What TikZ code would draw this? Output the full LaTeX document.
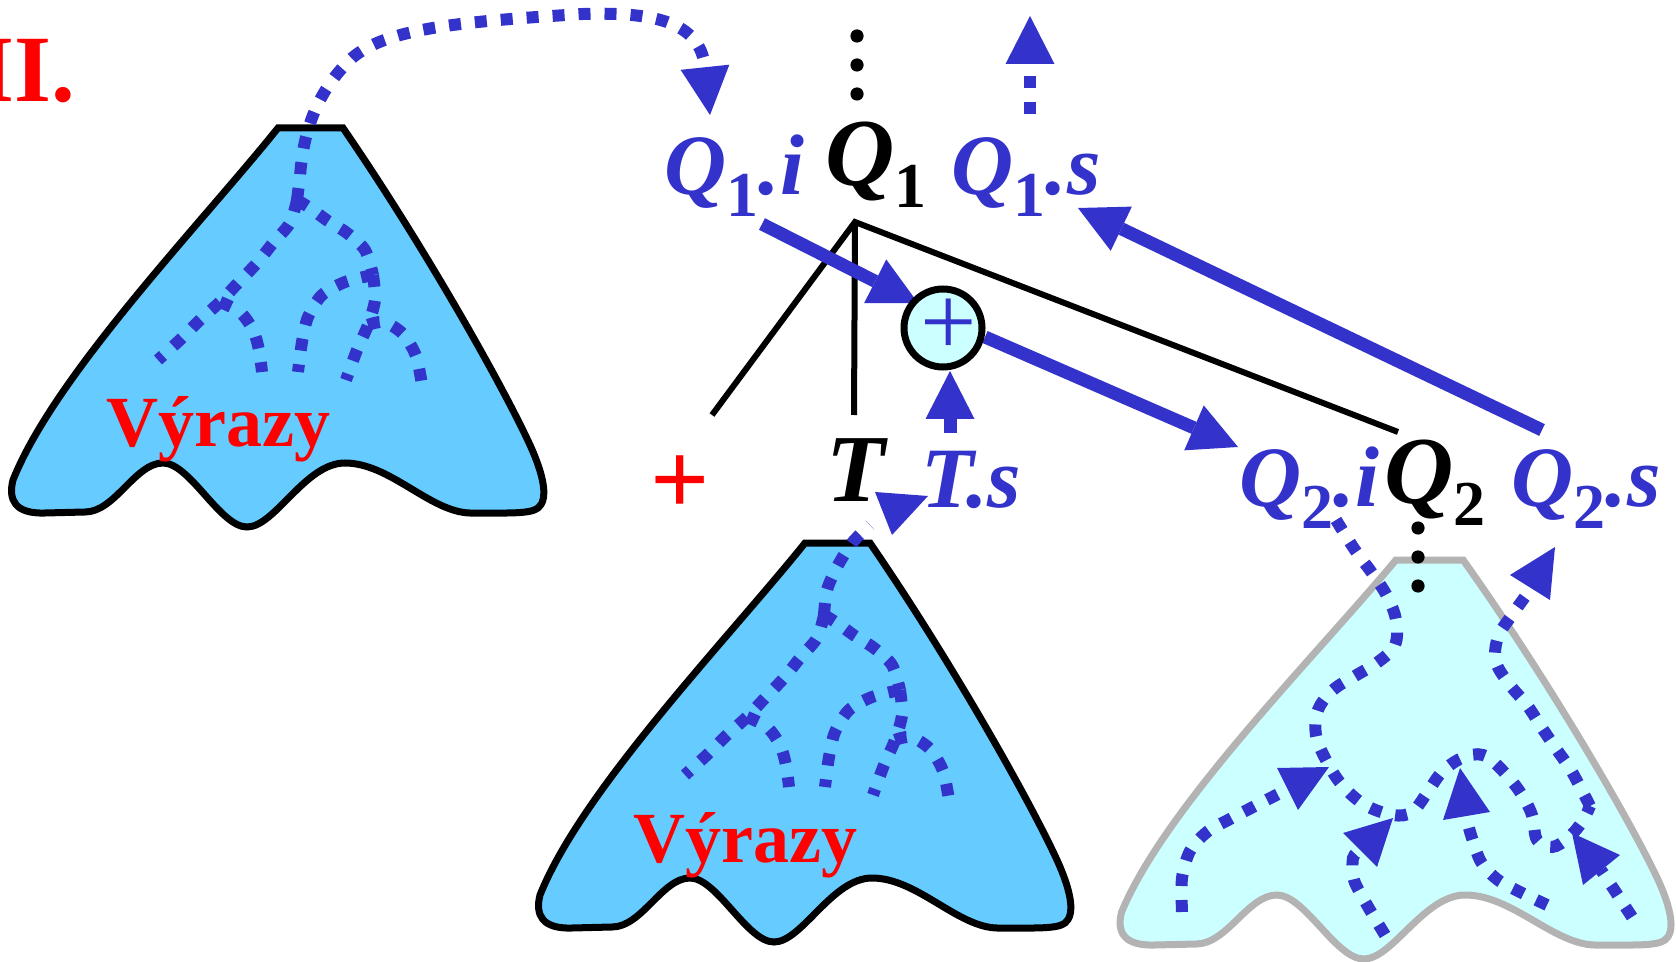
\documentclass[tikz,border=0pt]{standalone}
\usepackage{fontspec}
\setmainfont{Liberation Serif}
\usetikzlibrary{arrows.meta}
\definecolor{myblue}{HTML}{3333CC}
\definecolor{treeblue}{HTML}{66CCFF}
\definecolor{lightcyan}{HTML}{CCFFFF}
\definecolor{treegray}{HTML}{B3B3B3}
\definecolor{myred}{HTML}{FF0000}

\newcommand\mysub[1]{\raisebox{-11pt}{\fontsize{32pt}{32pt}\selectfont\upshape\bfseries #1}}

\newcommand\DrawTree[1]{%
  \path[#1] (278,128) -- (343,128) .. controls (420,240) and (500,380) .. (530,445)
    .. controls (545,478) and (548,500) .. (538,508) .. controls (530,514) and (510,513) .. (470,513)
    .. controls (430,512) and (390,463) .. (345,463) .. controls (305,463) and (275,527) .. (247,527)
    .. controls (220,527) and (190,463) .. (163,463) .. controls (135,463) and (115,512) .. (85,512)
    -- (45,513) .. controls (15,514) and (8,500) .. (13,480)
    .. controls (55,375) and (200,225) .. (278,128) -- cycle;}

\newcommand\DrawBranches{%
  \draw[dots] plot[smooth] coordinates {(297,200) (290,223) (273,243) (257,263) (238,283) (220,302) (200,320) (182,338) (158,360)};
  \draw[dots] plot[smooth] coordinates {(220,302) (240,312) (253,330) (259,350) (262,372)};
  \draw[dots] plot[smooth] coordinates {(297,200) (310,208) (328,221) (347,233) (365,250) (373,275)};
  \draw[dots] plot[smooth] coordinates {(373,275) (345,282) (322,295) (308,317) (302,342) (298,372)};
  \draw[dots] plot[smooth] coordinates {(373,275) (375,300) (368,325) (357,350) (346,380)};
  \draw[dots] plot[smooth] coordinates {(368,325) (384,322) (403,334) (416,356) (422,385)};}

\begin{document}
\begin{tikzpicture}[x=0.5pt,y=-0.5pt,
  treeA/.style={fill=treeblue, draw=black, line width=3.5pt},
  treeB/.style={fill=lightcyan, draw=treegray, line width=3.5pt},
  dots/.style={draw=myblue, line width=6pt, dash pattern=on 6pt off 7pt},
  bigtip/.style={-{Triangle[length=24pt,width=24.5pt,line width=0pt]}},
  solidarrow/.style={draw=myblue, line width=6.5pt, bigtip},
  blk/.style={draw=black, line width=3pt},
  blab/.style={anchor=base west, inner sep=0pt, text=myblue, font=\fontsize{43pt}{43pt}\selectfont\bfseries\itshape},
  klab/.style={anchor=base west, inner sep=0pt, text=black, font=\fontsize{48pt}{48pt}\selectfont\bfseries\itshape},
  vyr/.style={anchor=base west, inner sep=0pt, text=myred, font=\fontsize{36pt}{36pt}\selectfont\bfseries},
  head/.style={fill=myblue}
]
\useasboundingbox (0,0) rectangle (1676,962);

% trees
\DrawTree{treeA}
\begin{scope}[shift={(527,415)}]\DrawTree{treeA}\end{scope}
\begin{scope}[shift={(1119,432)}]
  \begin{scope}[shift={(310,0)}, xscale=1.035, shift={(-310,0)}]\DrawTree{treeB}\end{scope}
\end{scope}

\node[vyr] (vyr1) at (106,447) {Výrazy};
\node[vyr] (vyr2) at (633,862) {Výrazy};

% internal flows, tree 1 and tree 2
\DrawBranches
\begin{scope}[shift={(527,415)}]
  \DrawBranches
  \draw[dots] plot[smooth] coordinates {(297,200) (300,175) (310,152) (325,128) (343,110)};
\end{scope}
\fill[head] (875,492) -- (928,496) -- (892,535) -- cycle;

% arc from tree 1 to Q1.i
\draw[dots, bigtip] (297,200) -- (300,177) .. controls (303,130) and (318,90) .. (352,58)
  .. controls (385,30) and (450,22) .. (583,14) .. controls (650,12) and (700,20) .. (710,115);

% tree 3 flows
\draw[dots] plot[smooth, tension=0.6] coordinates {(1336,520) (1355,550) (1372,573) (1387,596) (1396,620) (1395,645) (1378,662) (1355,676) (1333,690) (1318,710) (1316,735) (1326,760) (1342,785) (1365,805) (1393,815) (1412,812) (1427,793) (1442,772) (1462,758) (1483,755) (1502,770) (1520,792) (1532,815) (1537,840) (1552,847) (1568,838) (1582,822) (1590,806)};
\draw[dots] plot[smooth, tension=0.6] coordinates {(1590,806) (1572,772) (1557,750) (1542,728) (1527,705) (1510,685) (1496,662) (1498,637) (1512,615) (1530,590)};
\fill[head] (1510,575) -- (1555,547) -- (1550,600) -- cycle;
\draw[dots] plot[smooth] coordinates {(1182,912) (1182,878) (1190,851) (1207,832) (1230,819) (1253,807) (1288,789)};
\fill[head] (1277,768) -- (1329,767) -- (1298,810) -- cycle;
\draw[dots] plot[smooth] coordinates {(1385,935) (1367,905) (1354,880) (1353,858) (1360,850)};
\fill[head] (1343,833) -- (1393,818) -- (1377,867) -- cycle;
\draw[dots] plot[smooth] coordinates {(1547,905) (1522,893) (1498,880) (1481,862) (1471,835) (1466,816)};
\fill[head] (1443,820) -- (1490,812) -- (1460,768) -- cycle;
\draw[dots] plot[smooth] coordinates {(1632,917) (1613,888) (1601,870)};
\fill[head] (1620,855) -- (1583,885) -- (1572,833) -- cycle;

% vertical dots
\foreach \yy in {36,65,94} \fill (857,\yy) circle[radius=3.3pt];
\foreach \yy in {528,557,586} \fill (1418,\yy) circle[radius=3.3pt];

% labels
\node[anchor=base east, inner sep=0pt, text=myred, font=\fontsize{47.5pt}{47.5pt}\selectfont\bfseries] (title) at (76,102) {II.};
\node[blab] (q1i) at (664,195) {Q\mysub{1}.i};
\node[klab] (q1) at (825,186) {Q\mysub{1}};
\node[blab] (q1s) at (951,195) {Q\mysub{1}.s};
\node[klab] (t) at (826,502) {T};
\node[blab] (ts) at (921,508) {T.s};
\node[blab] (q2i) at (1239,507) {Q\mysub{2}.i};
\node[klab] (q2) at (1384,503) {Q\mysub{2}};
\node[blab] (q2s) at (1511,507) {Q\mysub{2}.s};
\node[inner sep=0pt, text=myred, font=\fontsize{52pt}{52pt}\selectfont\bfseries] (opred) at (680,485) {+};

% black tree lines
\coordinate (apex) at (855,222);
\coordinate (eplus) at (712,415);
\coordinate (et) at (854,415);
\coordinate (eq2) at (1398,432);
\draw[blk] (eplus) -- (apex) -- (eq2);
\draw[blk] (apex) -- (et);

% Q1.s up arrow
\coordinate (up0) at (1030,114);
\coordinate (up1) at (1030,16);
\draw[dots, bigtip] (up0) -- (up1);

% solid arrows
\coordinate (a1s) at (762,224); \coordinate (a1e) at (918,303);
\draw[solidarrow] (a1s) -- (a1e);
\coordinate (a2s) at (950,433); \coordinate (a2e) at (950,371);
\draw[solidarrow] (a2s) -- (a2e);
\coordinate (a3s) at (985,337); \coordinate (a3e) at (1238,447);
\draw[solidarrow] (a3s) -- (a3e);
\coordinate (a4s) at (1542,430); \coordinate (a4e) at (1078,208);
\draw[solidarrow] (a4s) -- (a4e);

% circle with plus
\node[circle, draw=black, line width=3.5pt, fill=lightcyan, minimum size=39pt, inner sep=0pt] (oplus) at (943,328) {};
\node[inner sep=0pt, text=myblue, font=\fontsize{50pt}{50pt}\selectfont] (opsym) at (949,327) {+};
\end{tikzpicture}
\end{document}
